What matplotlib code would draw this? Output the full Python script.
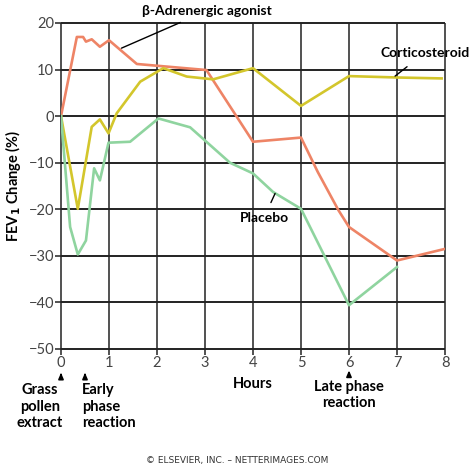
import numpy as np
import matplotlib.pyplot as plt

plt.rcParams['font.family'] = ['Lato', 'DejaVu Sans']

# Daten (Stunden, FEV1-Aenderung in %)
agonist_x = [0, 0.33, 0.46, 0.52, 0.64, 0.81, 1.0, 1.58, 3.03, 4.0, 5.0, 5.35, 5.78, 6.0, 7.0, 8.0]
agonist_y = [0, 17, 17, 16, 16.5, 14.9, 16.3, 11.2, 9.9, -5.5, -4.6, -12, -20.2, -23.8, -31, -28.5]

cortico_x = [0, 0.35, 0.64, 0.81, 0.99, 1.16, 1.65, 2.13, 2.62, 3.17, 4.0, 5.0, 6.0, 7.0, 7.93]
cortico_y = [0, -19.9, -2.3, -0.7, -3.7, 0.6, 7.4, 10.3, 8.5, 7.9, 10.3, 2.2, 8.6, 8.3, 8.1]

placebo_x = [0, 0.19, 0.35, 0.52, 0.69, 0.81, 0.99, 1.44, 2.03, 2.69, 3.52, 4.0, 4.42, 5.0, 6.0, 7.0]
placebo_y = [0, -23.8, -29.7, -26.7, -11.2, -13.8, -5.7, -5.5, -0.5, -2.4, -10, -12.3, -16.3, -19.9, -40.6, -32.4]

xticks = list(range(0, 9))
yticks = list(range(-50, 21, 10))

fig = plt.figure(figsize=(4.75, 4.69), dpi=100)
ax = fig.add_axes([61 / 475, 1 - 349 / 469, 384 / 475, 326 / 469])

# Gitter
ax.vlines(xticks, -50, 20, color='#222222', lw=1.1, zorder=1, clip_on=False)
ax.hlines(yticks, 0, 8, color='#222222', lw=1.4, zorder=1, clip_on=False)

ax.plot(agonist_x, agonist_y, color='#EE8466', lw=1.9, zorder=3)
ax.plot(cortico_x, cortico_y, color='#D3C62C', lw=1.9, zorder=3)
ax.plot(placebo_x, placebo_y, color='#8FD49F', lw=1.9, zorder=3)

ax.set_xlim(0, 8)
ax.set_ylim(-50, 20)
ax.set_xticks(xticks)
ax.set_yticks(yticks)
for s in ax.spines.values():
    s.set_visible(False)
ax.tick_params(colors='#222222', labelcolor='#444444', labelsize=10.5, length=4, width=1.1, pad=1)
ax.set_ylabel('FEV$_\\mathbf{1}$ Change (%)', fontsize=10.5, fontweight='bold', labelpad=4)

bold = dict(fontsize=10, fontweight='bold', color='black')
bold2 = dict(fontsize=10.5, fontweight='bold', color='black')

# Beschriftungen der Kurven
ax.annotate('β-Adrenergic agonist', xy=(1.26, 14.6), xytext=(3.04, 22.6),
            ha='center', va='center', annotation_clip=False,
            arrowprops=dict(arrowstyle='-', color='black', lw=1, shrinkB=0, shrinkA=5), **bold)
ax.annotate('Corticosteroid', xy=(6.96, 8.6), xytext=(7.58, 13.6),
            ha='center', va='center', annotation_clip=False,
            arrowprops=dict(arrowstyle='-', color='black', lw=1, shrinkB=0, shrinkA=6), **bold)
ax.annotate('Placebo', xy=(4.46, -16.6), xytext=(4.23, -21.8),
            ha='center', va='center',
            arrowprops=dict(arrowstyle='-', color='black', lw=1, shrinkB=0, shrinkA=5), **bold)

# Text unter der Achse
ax.text(4.0, -57.5, 'Hours', ha='center', va='center', clip_on=False, **bold2)
ax.text(-0.44, -62.4, 'Grass\npollen\nextract', ha='center', va='center',
        linespacing=1.25, clip_on=False, **bold2)
ax.text(0.43, -62.4, 'Early\nphase\nreaction', ha='left', va='center',
        linespacing=1.25, clip_on=False, **bold2)
ax.text(6.0, -59.9, 'Late phase\nreaction', ha='center', va='center',
        linespacing=1.25, clip_on=False, **bold2)

arrow = dict(arrowstyle='-|>,head_width=0.15,head_length=0.35', color='black', lw=1.2)
for xa, y0, y1 in [(0, -56.3, -54.5), (0.5, -56.3, -54.5), (6.0, -56.3, -54.0)]:
    ax.annotate('', xy=(xa, y1), xytext=(xa, y0), annotation_clip=False, arrowprops=arrow)

fig.text(0.5, 0.018, '© ELSEVIER, INC. – NETTERIMAGES.COM', ha='center', va='center',
         fontsize=6.5, color='#333333', family='DejaVu Sans')

plt.savefig('out.png', dpi=100)
